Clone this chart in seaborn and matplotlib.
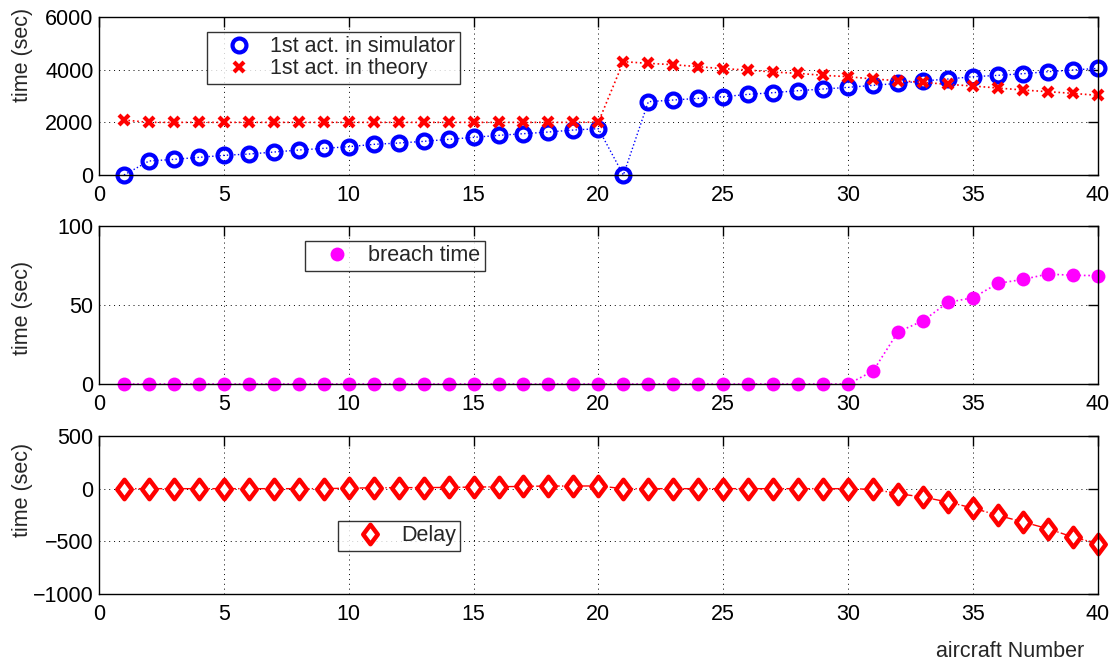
import matplotlib
matplotlib.use("Agg")
import matplotlib.pyplot as plt
from matplotlib.path import Path
import numpy as np
import seaborn as sns

sns.set_style("white")
plt.rcParams["font.family"] = ["Liberation Sans", "DejaVu Sans"]
plt.rcParams["xtick.direction"] = "in"
plt.rcParams["ytick.direction"] = "in"

aircraft = np.arange(1, 41)

sim_first = [0, 532, 595, 671, 747, 797, 873, 949, 1013, 1076,
             1165, 1215, 1279, 1354, 1430, 1506, 1570, 1633, 1709, 1760,
             0, 2785, 2848, 2911, 2975, 3063, 3127, 3203, 3266, 3329,
             3405, 3481, 3570, 3646, 3734, 3785, 3848, 3924, 3987, 4051]
theory_first = [2089, 2000, 2000, 2000, 2000, 2000, 2000, 2000, 2000, 2000,
                2000, 2000, 2000, 2000, 2000, 2000, 2000, 2000, 2000, 2010,
                4304, 4241, 4190, 4114, 4038, 3987, 3911, 3861, 3785, 3734,
                3646, 3582, 3519, 3443, 3380, 3304, 3228, 3165, 3101, 3025]
breach = [0] * 30 + [8.2, 33, 40, 51.7, 54.6, 63.7, 66.2, 69.6, 68.8, 68.6]
delay = [0, 0, 0, 0, 0, 0, 0, 0, 0, 5,
         8, 10, 10, 12, 15, 18, 22, 25, 25, 26,
         0, 0, 0, 0, 0, 0, 0, 0, 0, 0,
         -6, -47, -80, -127, -184, -253, -316, -380, -459, -522]

FS = 15.5

# MATLAB-like diamond: taller than wide
diamond = Path([(0, 1), (0.75, 0), (0, -1), (-0.75, 0), (0, 1)],
               [Path.MOVETO, Path.LINETO, Path.LINETO, Path.LINETO,
                Path.CLOSEPOLY])

fig = plt.figure(figsize=(11.16, 6.62), dpi=100)
left, width, height = 0.0887, 0.895, 0.2387
ax1 = fig.add_axes([left, 0.7356, width, height])
ax2 = fig.add_axes([left, 0.4199, width, height])
ax3 = fig.add_axes([left, 0.1027, width, height])

sns.lineplot(x=aircraft, y=sim_first, ax=ax1, color="blue", linestyle=":",
             marker="o", markersize=10, markerfacecolor="none",
             markeredgewidth=3, markeredgecolor="blue", linewidth=1,
             label="1st act. in simulator")
sns.lineplot(x=aircraft, y=theory_first, ax=ax1, color="red", linestyle=":",
             marker="x", markersize=7, markeredgewidth=3,
             markeredgecolor="red", linewidth=1.2,
             label="1st act. in theory")
sns.lineplot(x=aircraft, y=breach, ax=ax2, color="magenta", linestyle=":",
             marker="o", markersize=10, markeredgewidth=0, linewidth=1.2,
             label="breach time")
sns.lineplot(x=aircraft, y=delay, ax=ax3, color="red", linestyle="-.",
             marker=diamond, markersize=14, markerfacecolor="white",
             markeredgewidth=3.2, markeredgecolor="red", linewidth=1,
             label="Delay")

ax1.set_ylim(0, 6000)
ax1.set_yticks([0, 2000, 4000, 6000])
ax2.set_ylim(0, 100)
ax2.set_yticks([0, 50, 100])
ax3.set_ylim(-1000, 500)
ax3.set_yticks([-1000, -500, 0, 500])
ax3.set_yticklabels(["\u22121000", "\u2212500", "0", "500"])

for ax in (ax1, ax2, ax3):
    ax.set_xlim(0, 40)
    ax.set_xticks(range(0, 41, 5))
    ax.grid(True, color="black", linestyle=(0, (1, 4)), linewidth=0.7)
    ax.tick_params(labelsize=FS, length=7, width=1, top=True, right=True,
                   colors="black")
    ax.tick_params(axis="x", pad=7)
    ax.tick_params(axis="y", pad=4)
    for s in ax.spines.values():
        s.set_color("black")
        s.set_linewidth(1)
    for p in ax.lines:
        p.set_clip_on(False)
    ax.set_ylabel("time (sec)", fontsize=FS)

ax1.yaxis.set_label_coords(-0.066, 0.76)
ax2.yaxis.set_label_coords(-0.066, 0.48)
ax3.yaxis.set_label_coords(-0.066, 0.66)
ax1.set_xlabel("")
ax2.set_xlabel("")
ax3.set_xlabel("aircraft Number", fontsize=FS)
ax3.xaxis.set_label_coords(0.912, -0.30)

leg_kw = dict(frameon=True, fancybox=False, edgecolor="black", fontsize=FS,
              loc="upper left", borderpad=0.2, labelspacing=0.05,
              handlelength=2.6, handletextpad=0.15, borderaxespad=0)
leg_pos = {ax1: (0.108, 0.905), ax2: (0.206, 0.905), ax3: (0.239, 0.462)}
for ax, anchor in leg_pos.items():
    leg = ax.legend(bbox_to_anchor=anchor, **leg_kw)
    leg.get_frame().set_linewidth(1)
    for h in leg.legend_handles:
        h.set_linestyle("none")

fig.savefig("out.png", dpi=100)
